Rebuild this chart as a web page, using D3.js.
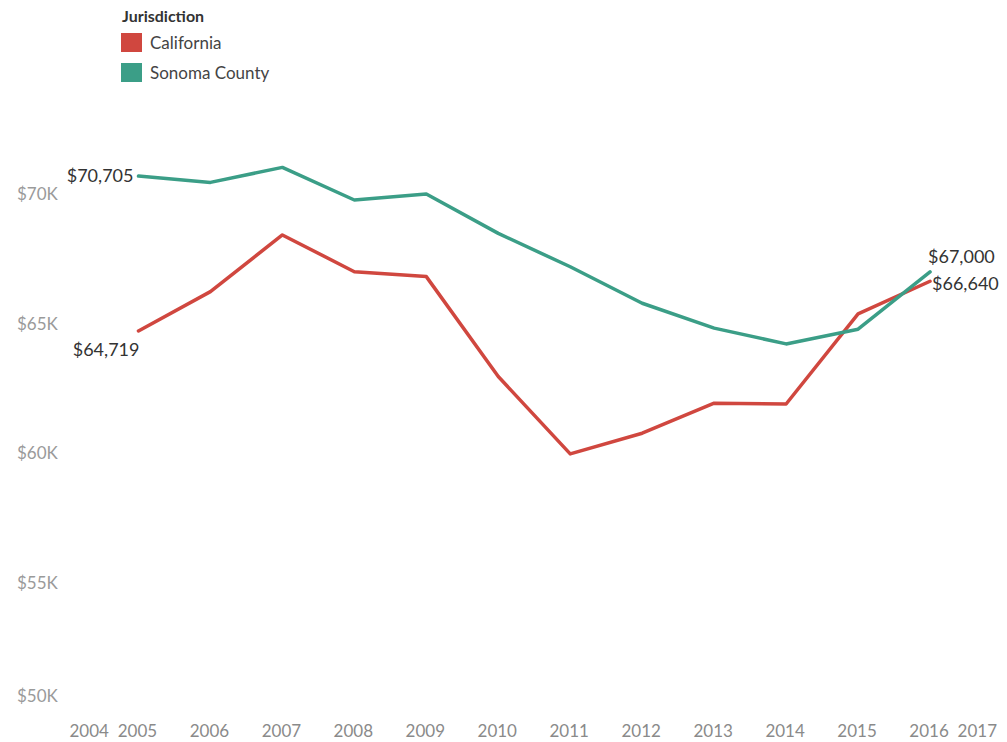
<!DOCTYPE html>
<html>
<head>
<meta charset="utf-8">
<script src="https://cdn.jsdelivr.net/npm/d3@7"></script>
<style>
  html, body { margin: 0; padding: 0; background: #fff; }
  svg { display: block; font-family: Lato, "Open Sans", sans-serif; }
</style>
</head>
<body>
<svg id="chart" width="1007" height="742"></svg>
<script>
// Median household income by jurisdiction, 2005–2016
const years = [2005, 2006, 2007, 2008, 2009, 2010, 2011, 2012, 2013, 2014, 2015, 2016];
const california = [64719, 66240, 68430, 67010, 66820, 62960, 59970, 60770, 61930, 61900, 65380, 66640];
const sonoma = [70705, 70460, 71040, 69780, 70010, 68490, 67200, 65790, 64830, 64220, 64790, 67000];
const seriesNames = ["California", "Sonoma County"];
const seriesColors = ["#d0473f", "#3b9e87"];
const yTicks = [50000, 55000, 60000, 65000, 70000];
const xTicks = [2004, 2005, 2006, 2007, 2008, 2009, 2010, 2011, 2012, 2013, 2014, 2015, 2016, 2017];

const svg = d3.select("#chart");

const x = d3.scaleLinear().domain([2004, 2017]).range([66.5, 1002]);
const y = d3.scaleLinear().domain([50000, 70000]).range([712, 194.3]);

// Y axis labels (no line, no ticks); bottom label held inside the pane
const yLab = svg.append("g");
yLab.selectAll("text").data(yTicks).join("text")
  .attr("x", 17)
  .attr("y", d => Math.min(y(d), 696))
  .attr("dy", "0.35em")
  .attr("fill", "#9a9a9a")
  .attr("font-size", 17)
  .text(d => d3.format("$")(d / 1000) + "K");

// X axis labels; end labels kept inside the plot edges
const xLab = svg.append("g");
xLab.selectAll("text").data(xTicks).join("text")
  .attr("x", (d, i) => i === 0 ? x(d) + 3 : i === xTicks.length - 1 ? x(d) - 5 : x(d) - 1)
  .attr("y", 731)
  .attr("dy", "0.35em")
  .attr("text-anchor", (d, i) => i === 0 ? "start" : i === xTicks.length - 1 ? "end" : "middle")
  .attr("fill", "#8a8a8a")
  .attr("font-size", 17)
  .text(d => d);

// Lines
const series = [
  { name: seriesNames[0], values: california, color: seriesColors[0] },
  { name: seriesNames[1], values: sonoma, color: seriesColors[1] }
];
const line = d3.line().x((d, i) => x(years[i])).y(d => y(d));

svg.append("g").selectAll("path").data(series).join("path")
  .attr("d", s => line(s.values))
  .attr("fill", "none")
  .attr("stroke", s => s.color)
  .attr("stroke-width", 3.5)
  .attr("stroke-linejoin", "round")
  .attr("stroke-linecap", "round");

// End-point value labels
const fmt = d3.format("$,");
const labels = svg.append("g").attr("fill", "#333").attr("font-size", 18);
const first = years[0], last = years[years.length - 1];
labels.append("text")
  .attr("x", x(first) - 5).attr("y", y(sonoma[0])).attr("dy", "0.35em")
  .attr("text-anchor", "end").text(fmt(sonoma[0]));
labels.append("text")
  .attr("x", x(first) + 1).attr("y", y(california[0]) + 19).attr("dy", "0.35em")
  .attr("text-anchor", "end").text(fmt(california[0]));
labels.append("text")
  .attr("x", x(last) - 2).attr("y", y(sonoma[sonoma.length - 1]) - 15).attr("dy", "0.35em")
  .attr("text-anchor", "start").text(fmt(sonoma[sonoma.length - 1]));
labels.append("text")
  .attr("x", x(last) + 2).attr("y", y(california[california.length - 1]) + 2).attr("dy", "0.35em")
  .attr("text-anchor", "start").text(fmt(california[california.length - 1]));

// Legend
const legend = svg.append("g").attr("transform", "translate(121,0)");
legend.append("text")
  .attr("x", 1).attr("y", 16).attr("dy", "0.35em")
  .attr("font-size", 16).attr("font-weight", "bold").attr("fill", "#333")
  .text("Jurisdiction");
const items = legend.selectAll("g.item").data(series).join("g")
  .attr("class", "item")
  .attr("transform", (d, i) => `translate(0,${33 + i * 30})`);
items.append("rect")
  .attr("width", 21).attr("height", 19)
  .attr("fill", d => d.color);
items.append("text")
  .attr("x", 29).attr("y", 10).attr("dy", "0.35em")
  .attr("font-size", 17).attr("fill", "#444")
  .text(d => d.name);
</script>
</body>
</html>
